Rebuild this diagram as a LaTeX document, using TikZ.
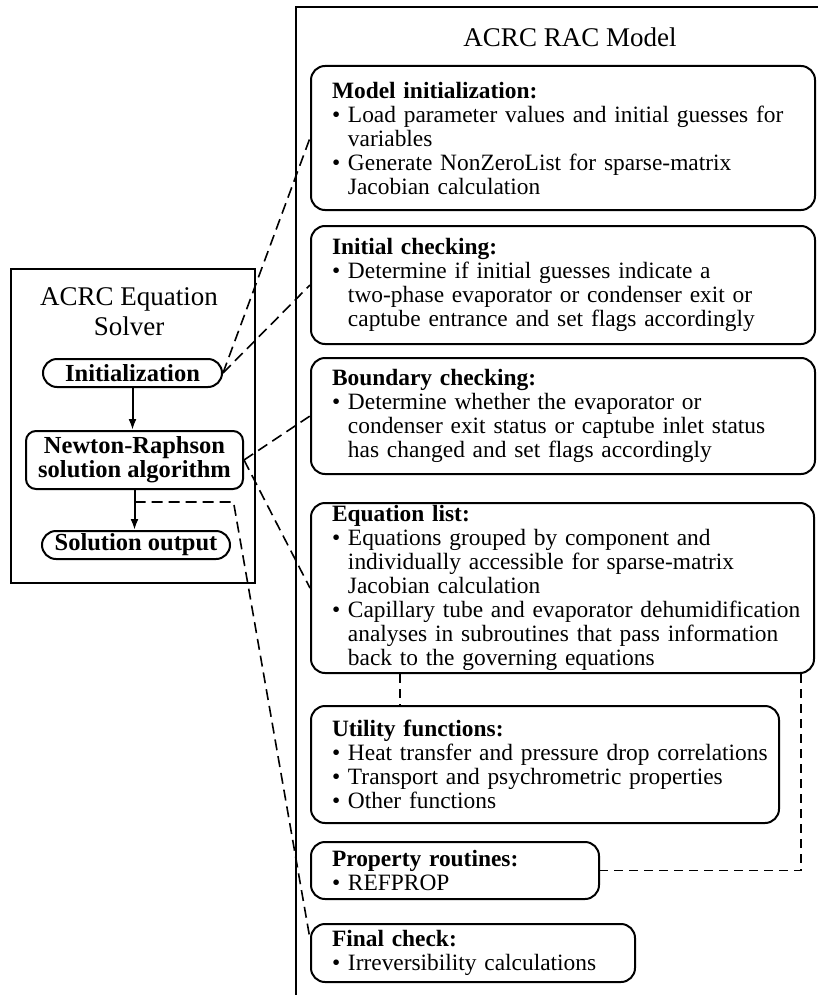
\documentclass[tikz,border=0pt]{standalone}
\usepackage{fontspec}
\setmainfont{Liberation Serif}
\usetikzlibrary{positioning,arrows.meta}

\newcommand{\bl}[1]{\mbox{\textbullet\ #1}}
\newcommand{\cl}[1]{\mbox{\phantom{\textbullet\ }#1}}

\begin{document}
\begin{tikzpicture}[x=1pt,y=1pt,
    txt/.style={font=\fontsize{23.4}{24}\selectfont},
    panel/.style={draw,line width=2pt,rounded corners=14pt,anchor=north west,align=left,inner xsep=21pt,inner ysep=2pt,txt},
    pill/.style={draw,line width=2pt,rounded corners=14pt,minimum height=28pt,inner sep=0pt,font=\bfseries\fontsize{24.5}{24}\selectfont},
    link/.style={line width=1.6pt,dash pattern=on 11pt off 6pt},
    sublink/.style={line width=1.6pt,dash pattern=on 9pt off 6pt}]
    \useasboundingbox (0,0) rectangle (818,-998);
    % left: equation solver
    \node[draw,line width=2pt,anchor=north west,minimum width=244pt,minimum height=314pt] (solver) at (10,-268) {};
    \node[align=center,font=\fontsize{27}{30}\selectfont] (solvertitle) at (129,-312) {ACRC Equation\\Solver};
    \node[pill,minimum width=179pt] (init) at (132.5,-373) {Initialization};
    \node[draw,line width=2pt,rounded corners=10pt,minimum width=217pt,minimum height=58pt,inner sep=0pt,align=center,font=\bfseries\fontsize{24.5}{24}\selectfont] (newton) at (134.5,-460) {Newton-Raphson\\solution algorithm};
    \node[pill,minimum width=188pt] (output) at (136,-545) {Solution output};
    \draw[line width=2pt,-{Latex[length=11pt,width=8pt]}] (init.south) -- (init.south |- newton.north);
    \draw[line width=2pt,-{Latex[length=11pt,width=8pt]}] (newton.south) -- (newton.south |- output.north);
    \coordinate (split) at ([yshift=-12pt]newton.south);
    % right: RAC model
    \draw[line width=2pt] (818,-7) -- (296,-7) -- (296,-995);
    \node[font=\fontsize{27}{30}\selectfont] (ractitle) at (570,-37) {ACRC RAC Model};
    \node[panel,text width=462pt,minimum height=144pt] (modelinit) at (310,-65) {\textbf{Model initialization:}\\
        \bl{Load parameter values and initial guesses for}\\
        \cl{variables}\\
        \bl{Generate NonZeroList for sparse-matrix}\\
        \cl{Jacobian calculation}};
    \node[panel,text width=462pt,minimum height=118pt] (initcheck) at (310,-225) {\textbf{Initial checking:}\\
        \bl{Determine if initial guesses indicate a}\\
        \cl{two-phase evaporator or condenser exit or}\\
        \cl{captube entrance and set flags accordingly}};
    \node[panel,text width=462pt,minimum height=116pt] (boundcheck) at (310,-357) {\textbf{Boundary checking:}\\
        \bl{Determine whether the evaporator or}\\
        \cl{condenser exit status or captube inlet status}\\
        \cl{has changed and set flags accordingly}};
    \node[panel,text width=461pt,minimum height=170pt] (eqlist) at (310,-502) {\textbf{Equation list:}\\
        \bl{Equations grouped by component and}\\
        \cl{individually accessible for sparse-matrix}\\
        \cl{Jacobian calculation}\\
        \bl{Capillary tube and evaporator dehumidification}\\
        \cl{analyses in subroutines that pass information}\\
        \cl{back to the governing equations}};
    \node[panel,text width=426pt,minimum height=117pt] (utility) at (310,-705) {\textbf{Utility functions:}\\
        \bl{Heat transfer and pressure drop correlations}\\
        \bl{Transport and psychrometric properties}\\
        \bl{Other functions}};
    \node[panel,text width=246pt,minimum height=57pt] (proprout) at (310,-841) {\textbf{Property routines:}\\
        \bl{REFPROP}};
    \node[panel,text width=282pt,minimum height=58pt] (finalcheck) at (310,-923) {\textbf{Final check:}\\
        \bl{Irreversibility calculations}};
    % dashed links
    \draw[link] (init.east) -- (modelinit.west);
    \draw[link] (init.east) -- (initcheck.west);
    \draw[link] (newton.east) -- (boundcheck.west);
    \draw[link] (newton.east) -- (eqlist.west);
    \draw[link] (split) -- ++(99,0) -- ([yshift=14pt]finalcheck.west);
    \draw[sublink] ([xshift=90pt]eqlist.south west) -- ([xshift=90pt]utility.north west);
    \draw[sublink] ([xshift=-14pt]eqlist.south east) |- (proprout.east);
\end{tikzpicture}
\end{document}
